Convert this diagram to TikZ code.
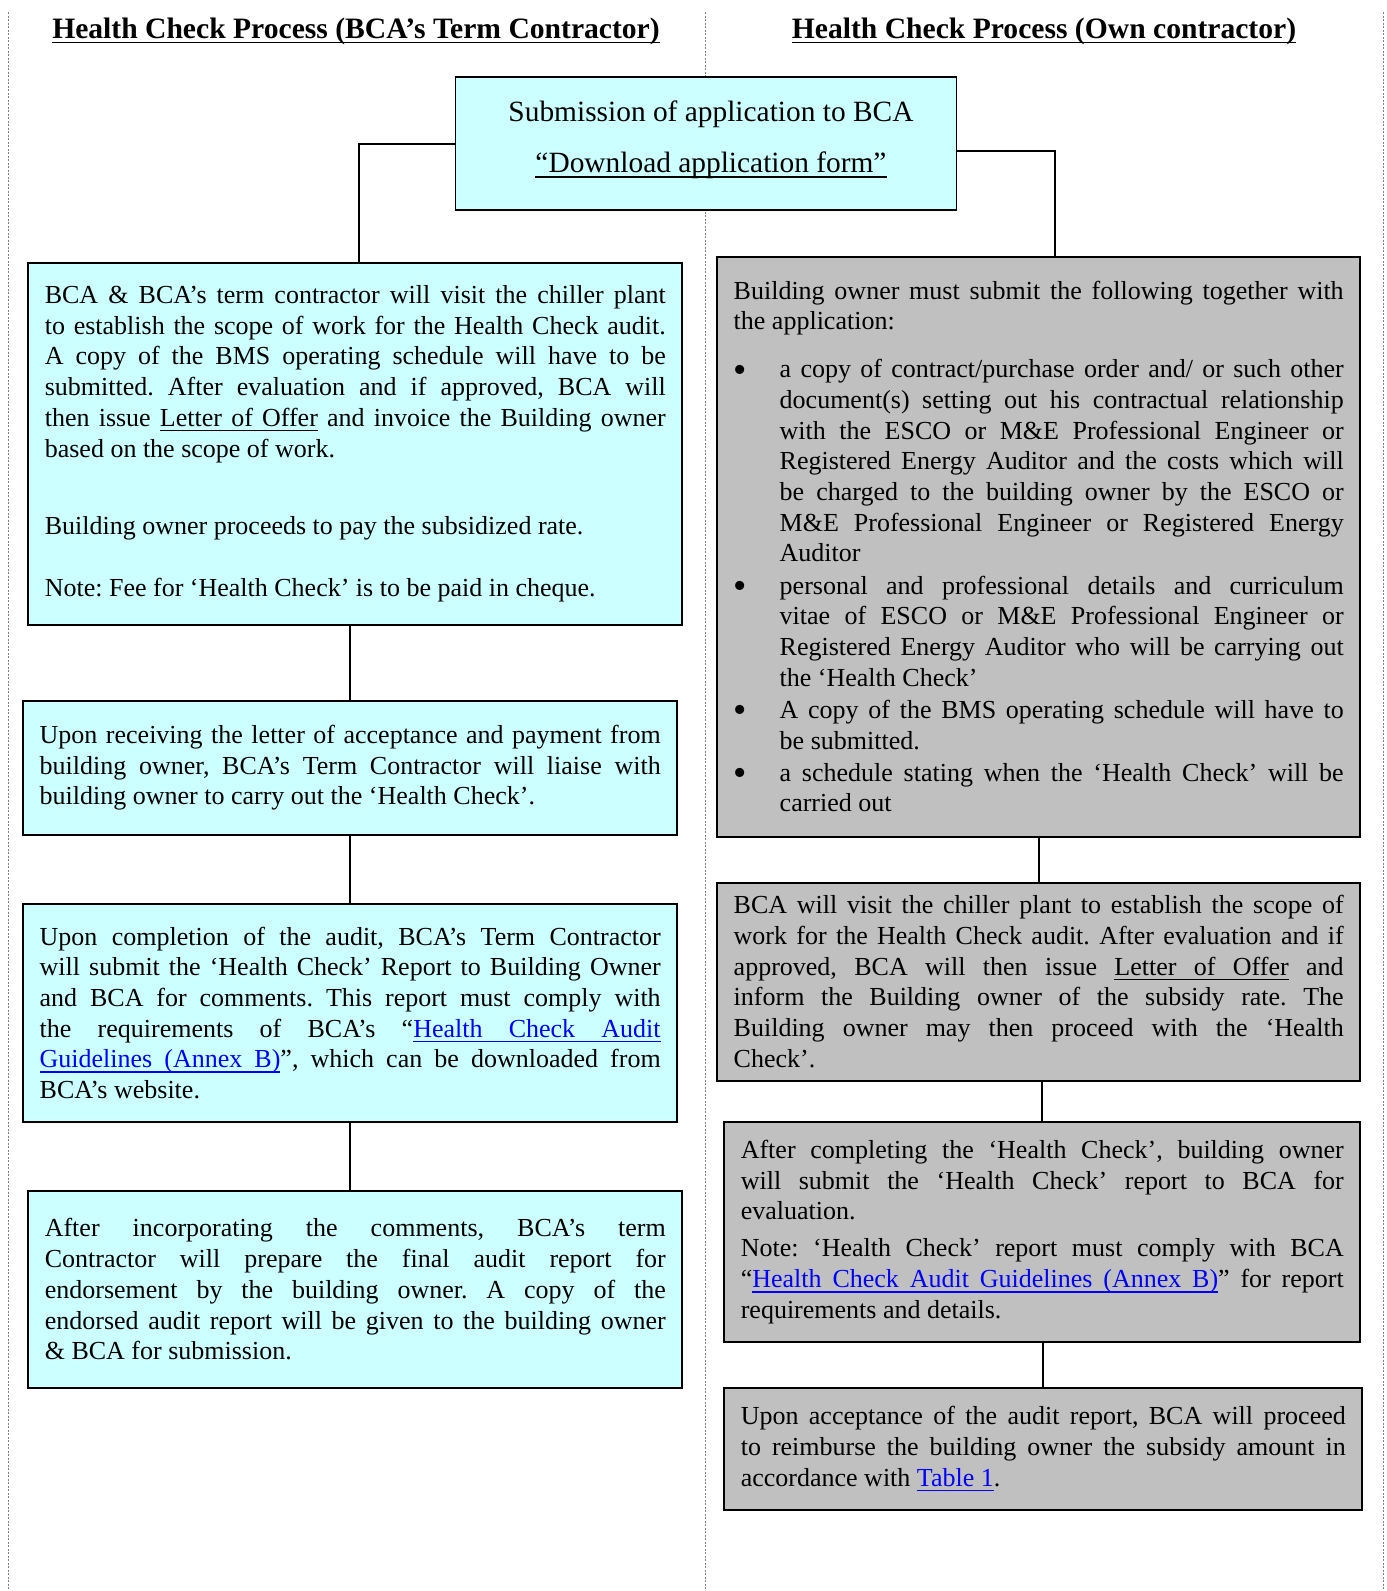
\documentclass[tikz,border=0pt]{standalone}
\usepackage{fontspec}
\setmainfont{Liberation Serif}
\definecolor{boxcyan}{HTML}{CCFFFF}
\definecolor{boxgrey}{HTML}{C0C0C0}
\definecolor{linkblue}{HTML}{0000FF}
\setlength{\parindent}{0pt}
\frenchspacing
\tolerance=9999
\hbadness=10000
\hyphenpenalty=10000
\exhyphenpenalty=10000
% underline that follows justified spaces
\newlength{\undldp}
\setlength{\undldp}{3.5pt}
\newcommand{\undlw}[1]{\setbox0\hbox{#1}\rlap{\vrule width\wd0 height -\undldp depth \dimexpr\undldp+1.6pt\relax}\box0\relax}
\newcommand{\undlsp}{\leaders\vrule height -\undldp depth \dimexpr\undldp+1.6pt\relax\hskip\fontdimen2\font plus\fontdimen3\font minus\fontdimen4\font\relax}
\def\undlsplit#1 #2\undlend{\undlw{#1}\ifx\relax#2\relax\else\undlsp\undlsplit#2\undlend\fi}
\newcommand{\undl}[1]{\leavevmode\undlsplit#1 \undlend}
\newcommand{\lnk}[1]{\textcolor{linkblue}{\undl{#1}}}
\newcommand{\bul}[1]{\par\vspace{1.5pt}\hangindent=46pt\hangafter=1\noindent\makebox[46pt][l]{\raisebox{-4.5pt}{\fontsize{38}{30}\selectfont\textbullet}}#1\par}
\begin{document}
\begin{tikzpicture}[x=1pt,y=-1pt,
    bodyfont/.style={font=\fontsize{26}{30.7}\selectfont},
    cyanbox/.style={draw=black,line width=1.8pt,fill=boxcyan,bodyfont,align=justify,
        inner xsep=16.5pt,inner ysep=8pt,anchor=north west},
    greybox/.style={draw=black,line width=1.8pt,fill=boxgrey,bodyfont,align=justify,
        inner xsep=16.5pt,inner ysep=8pt,anchor=north west},
    flowline/.style={line width=2pt},
    sepline/.style={gray,line width=0.8pt,dash pattern=on 2pt off 1.5pt},
    heading/.style={font=\fontsize{29.6}{34}\selectfont\bfseries}]
\useasboundingbox (0,0) rectangle (1387,1591);

% page column separators
\foreach \x in {8,705,1383} {
    \draw[sepline] (\x,12) -- (\x,1591);
}

% headings
\node[heading] (lefthead) at (356,31) {\undl{Health Check Process (BCA’s Term Contractor)}};
\node[heading] (righthead) at (1044,31) {\undl{Health Check Process (Own contractor)}};

% application
\node[draw=black,line width=1.8pt,fill=boxcyan,minimum width=501pt,minimum height=133pt,
      align=center,font=\fontsize{29.4}{51.7}\selectfont] (apply) at (706,143.5)
    {\hspace{10pt}Submission of application to BCA\\ \hspace{10pt}\undl{“Download application form”}\rule[-14pt]{0pt}{14pt}};

% left column: BCA's term contractor
\node[cyanbox,text width=621pt,minimum height=362pt] (visit) at (27.4,261.8) {%
BCA \& BCA’s term contractor will visit the chiller plant\linebreak
to establish the scope of work for the Health Check audit.\linebreak
A copy of the BMS operating schedule will have to be\linebreak
submitted. After evaluation and if approved, BCA will\linebreak
then issue \undl{Letter of Offer} and invoice the Building owner\linebreak
based on the scope of work.\par\vspace{47pt}
Building owner proceeds to pay the subsidized rate.\par\vspace{31pt}
Note: Fee for ‘Health Check’ is to be paid in cheque.};

\node[cyanbox,text width=621pt,minimum height=134pt] (accept) at (22.3,700) {%
Upon receiving the letter of acceptance and payment from\linebreak
building owner, BCA’s Term Contractor will liaise with\linebreak
building owner to carry out the ‘Health Check’.};

\node[cyanbox,text width=621pt,minimum height=218pt] (report) at (22.3,903) {%
Upon completion of the audit, BCA’s Term Contractor\linebreak
will submit the ‘Health Check’ Report to Building Owner\linebreak
and BCA for comments. This report must comply with\linebreak
the requirements of BCA’s “\lnk{Health Check Audit}\linebreak
\lnk{Guidelines (Annex B)}”, which can be downloaded from\linebreak
BCA’s website.};

\node[cyanbox,text width=621pt,minimum height=197pt] (endorse) at (27.4,1190) {%
After incorporating the comments, BCA’s term\linebreak
Contractor will prepare the final audit report for\linebreak
endorsement by the building owner. A copy of the\linebreak
endorsed audit report will be given to the building owner\linebreak
\& BCA for submission.};

% right column: own contractor
\node[greybox,text width=610pt,minimum height=580pt] (submit) at (716.3,255.7) {%
Building owner must submit the following together with\linebreak
the application:\par\vspace{15.5pt}
\bul{a copy of contract/purchase order and/ or such other\linebreak
document(s) setting out his contractual relationship\linebreak
with the ESCO or M\&E Professional Engineer or\linebreak
Registered Energy Auditor and the costs which will\linebreak
be charged to the building owner by the ESCO or\linebreak
M\&E Professional Engineer or Registered Energy\linebreak
Auditor}
\bul{personal and professional details and curriculum\linebreak
vitae of ESCO or M\&E Professional Engineer or\linebreak
Registered Energy Auditor who will be carrying out\linebreak
the ‘Health Check’}
\bul{A copy of the BMS operating schedule will have to\linebreak
be submitted.}
\bul{a schedule stating when the ‘Health Check’ will be\linebreak
carried out}};

\node[greybox,text width=610pt,minimum height=198pt] (scope) at (716.3,881.7) {%
BCA will visit the chiller plant to establish the scope of\linebreak
work for the Health Check audit. After evaluation and if\linebreak
approved, BCA will then issue \undl{Letter of Offer} and\linebreak
inform the Building owner of the subsidy rate. The\linebreak
Building owner may then proceed with the ‘Health\linebreak
Check’.};

\node[greybox,text width=603pt,minimum height=220pt] (complete) at (723.4,1121) {%
After completing the ‘Health Check’, building owner\linebreak
will submit the ‘Health Check’ report to BCA for\linebreak
evaluation.\par\vspace{6.5pt}
Note: ‘Health Check’ report must comply with BCA\linebreak
“\lnk{Health Check Audit Guidelines (Annex B)}” for report\linebreak
requirements and details.};

\node[greybox,text width=605pt,minimum height=122pt] (refund) at (723.4,1387) {%
Upon acceptance of the audit report, BCA will proceed\linebreak
to reimburse the building owner the subsidy amount in\linebreak
accordance with \lnk{Table 1}.};

% connectors
\draw[flowline] (apply.west) -| ([xshift=4pt]visit.north);
\draw[flowline] ([yshift=-7.5pt]apply.east) -| ([xshift=16.4pt]submit.north);
\draw[flowline] (accept.north) -- (accept.north |- visit.south);
\draw[flowline] (report.north) -- (report.north |- accept.south);
\draw[flowline] (endorse.north -| report.south) -- (report.south);
\draw[flowline] (scope.north) -- (scope.north |- submit.south);
\draw[flowline] (complete.north) -- (complete.north |- scope.south);
\draw[flowline] (refund.north) -- (refund.north |- complete.south);

\end{tikzpicture}
\end{document}
